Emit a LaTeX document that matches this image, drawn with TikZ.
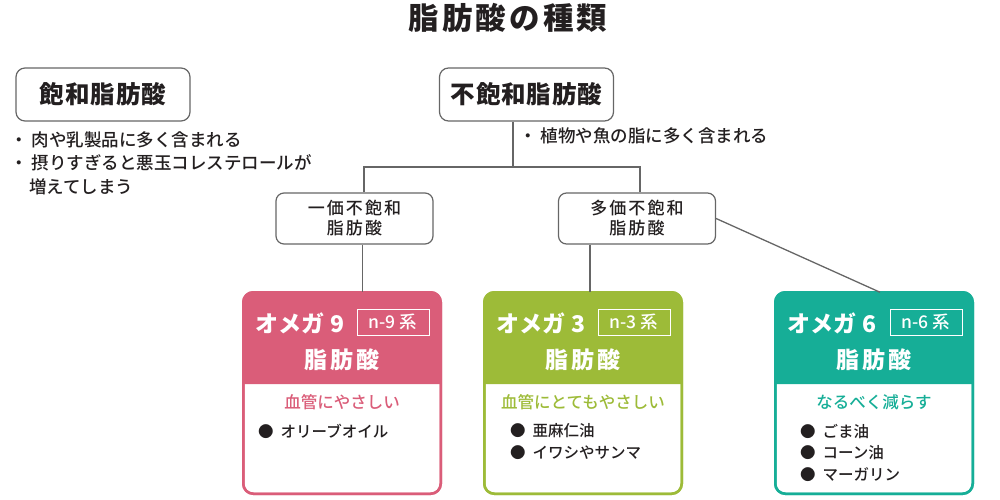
\documentclass[tikz,border=0pt]{standalone}
\usepackage{fontspec}
\setmainfont{Noto Sans CJK JP}
\newfontfamily\medfont{Noto Sans CJK JP Medium}
\newfontfamily\blackfont{Noto Sans CJK JP Black}
\usetikzlibrary{positioning}
\definecolor{omenine}{HTML}{DA5D79}
\definecolor{omethree}{HTML}{9DBB38}
\definecolor{omesix}{HTML}{16AE97}
\definecolor{ink}{HTML}{231F20}
\definecolor{wire}{HTML}{666666}

\tikzset{
  kind/.style={draw=wire, line width=1.2pt, rounded corners=9pt, minimum width=174pt,
    minimum height=53pt, text=ink, font=\fontsize{24.5}{28}\selectfont\bfseries\addfontfeature{LetterSpace=4}},
  sub/.style={draw=wire, line width=1.2pt, rounded corners=8pt, minimum width=157pt,
    minimum height=51pt, align=center, text=ink, font=\medfont\fontsize{17}{20}\selectfont\addfontfeature{LetterSpace=12}},
  note/.style={anchor=west, align=left, inner sep=0pt, text=ink,
    font=\medfont\fontsize{17.5}{23.5}\selectfont},
  omega/.style={draw=#1, line width=2.5pt, rounded corners=10pt, outer sep=0pt,
    minimum width=197.5pt, minimum height=201.5pt},
  head/.style={inner sep=0pt, text=white, font=\fontsize{23}{27}\selectfont\bfseries},
  acid/.style={head, font=\fontsize{23}{27}\selectfont\bfseries\addfontfeature{LetterSpace=12}},
  tag/.style={draw=white, line width=0.8pt, inner sep=0pt, minimum width=72pt,
    minimum height=26pt, text=white, font=\medfont\fontsize{17.5}{20}\selectfont},
  good/.style={inner sep=0pt, text=#1, font=\medfont\fontsize{16.5}{20}\selectfont},
  oils/.style={anchor=west, align=left, inner sep=0pt, text=ink,
    font=\medfont\fontsize{15.5}{21.5}\selectfont},
  link/.style={draw=wire, line width=1.3pt},
}

\begin{document}
\begin{tikzpicture}[x=1pt, y=-1pt]
  \useasboundingbox (0,0) rectangle (1000,500);

  \node[inner sep=0pt, text=ink, font=\blackfont\fontsize{30.5}{34}\selectfont\addfontfeature{LetterSpace=10}] (title) at (508,18) {脂肪酸の種類};

  \node[kind] (sat) at (103,94.5) {飽和脂肪酸};
  \node[kind] (unsat) at (526.5,94.5) {不飽和脂肪酸};
  \node[note] (satnote) at (10,163) {・\hspace{4pt}肉や乳製品に多く含まれる\\・\hspace{4pt}摂りすぎると悪玉コレステロールが\\\hspace{19pt}増えてしまう};
  \node[note] (unsatnote) at (519,136) {・\hspace{4pt}植物や魚の脂に多く含まれる};

  \node[sub] (mono) at (354.5,218.5) {一価不飽和\\脂肪酸};
  \node[sub] (poly) at (637,218.5) {多価不飽和\\脂肪酸};

  % omega 9
  \node[omega=omenine] (o9) at (342,393) {};
  \coordinate (h9) at (342,384);
  \fill[omenine] (o9.west |- h9) [rounded corners=10pt] -- (o9.north west) -- (o9.north east)
    [sharp corners] -- (o9.east |- h9) -- cycle;
  \node[omega=omenine] at (o9) {};
  \node[head] (o9a) at (300,323) {オメガ 9};
  \node[tag] (o9b) at (393,322) {n-9 系};
  \node[acid] (o9c) at (342,360) {脂肪酸};
  \node[good=omenine] (o9d) at (342,402) {血管にやさしい};
  \node[oils] (o9e) at (258,431) {●\hspace{7pt}オリーブオイル};

  % omega 3
  \node[omega=omethree] (o3) at (583,393) {};
  \coordinate (h3) at (583,384);
  \fill[omethree] (o3.west |- h3) [rounded corners=10pt] -- (o3.north west) -- (o3.north east)
    [sharp corners] -- (o3.east |- h3) -- cycle;
  \node[omega=omethree] at (o3) {};
  \node[head] (o3a) at (541,323) {オメガ 3};
  \node[tag] (o3b) at (634,322) {n-3 系};
  \node[acid] (o3c) at (583,360) {脂肪酸};
  \node[good=omethree] (o3d) at (583,402) {血管にとてもやさしい};
  \node[oils] (o3e) at (510,441.5) {●\hspace{7pt}亜麻仁油\\●\hspace{7pt}イワシやサンマ};

  % omega 6
  \node[omega=omesix] (o6) at (874,393) {};
  \coordinate (h6) at (874,384);
  \fill[omesix] (o6.west |- h6) [rounded corners=10pt] -- (o6.north west) -- (o6.north east)
    [sharp corners] -- (o6.east |- h6) -- cycle;
  \node[omega=omesix] at (o6) {};
  \node[head] (o6a) at (832,323) {オメガ 6};
  \node[tag] (o6b) at (926,322) {n-6 系};
  \node[acid] (o6c) at (874,360) {脂肪酸};
  \node[good=omesix] (o6d) at (874,402) {なるべく減らす};
  \node[oils] (o6e) at (800,452.5) {●\hspace{7pt}ごま油\\●\hspace{7pt}コーン油\\●\hspace{7pt}マーガリン};

  \coordinate (fork) at (513,167);
  \coordinate (forkl) at (364,167);
  \coordinate (forkr) at (640,167);
  \draw[link] (unsat.south -| fork) -- (fork);
  \draw[link] (forkl |- mono.north) -- (forkl) -- (forkr) -- (forkr |- poly.north);
  \draw[link] ([xshift=8pt]mono.south) -- ([xshift=8pt]mono.south |- o9.north);
  \draw[link] ([xshift=-47pt]poly.south) -- ([xshift=-47pt]poly.south |- o3.north);
  \draw[link] (poly.east) -- ([xshift=6pt]o6.north);
\end{tikzpicture}
\end{document}
